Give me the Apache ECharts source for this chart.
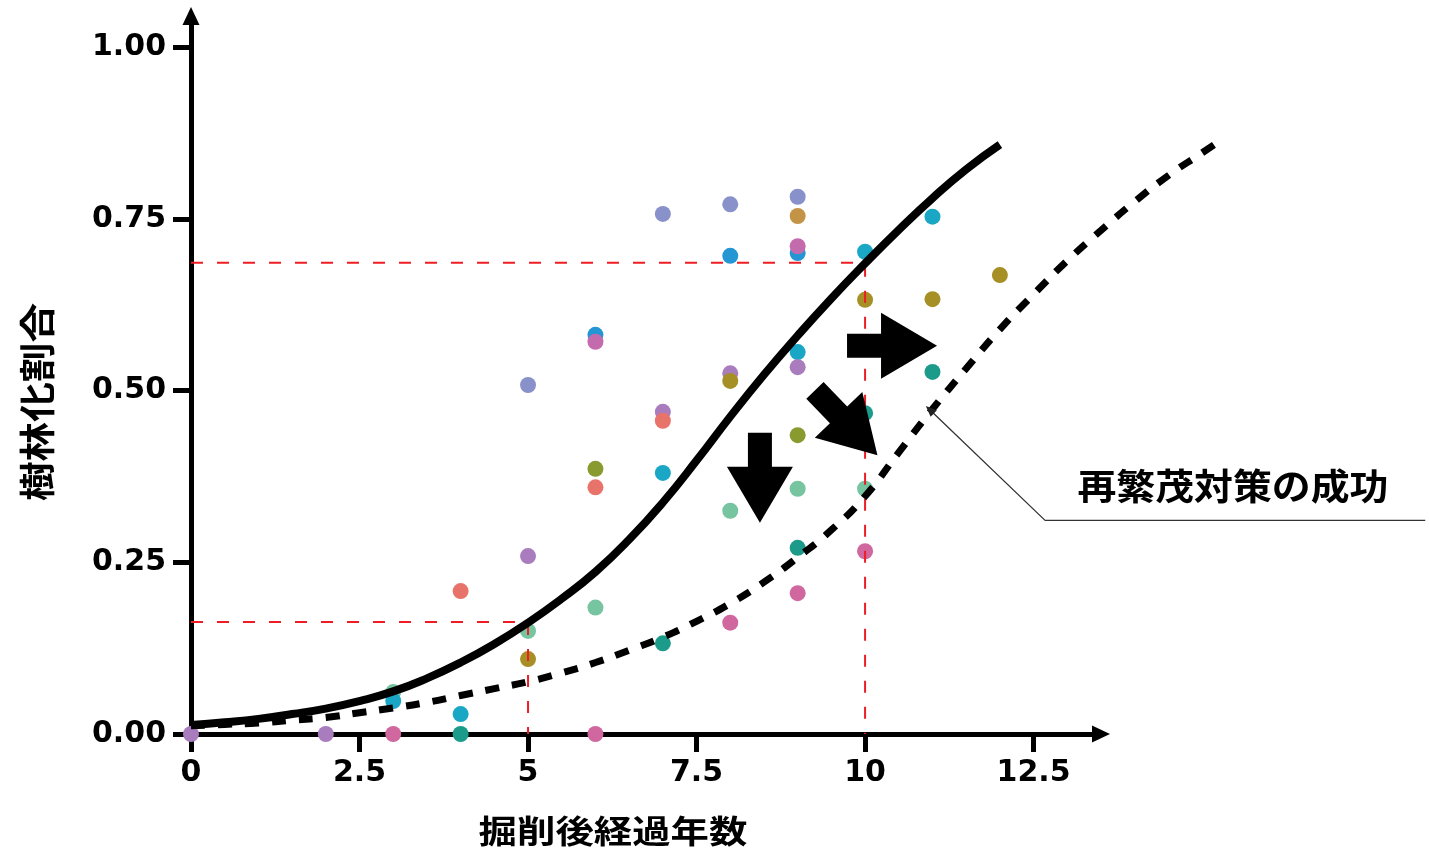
<!DOCTYPE html>
<html><head><meta charset="utf-8">
<script src="https://cdn.jsdelivr.net/npm/echarts@6/dist/echarts.min.js"></script>
<style>html,body{margin:0;padding:0;background:#fff}#c{width:1429px;height:852px}</style>
</head><body><div id="c"></div>
<script>
// ---- text ----
const xTitle = '掘削後経過年数';
const yTitle = '樹林化割合';
const annotationLabel = '再繁茂対策の成功';

// ---- tick labels ----
const xTicks = [0, 2.5, 5, 7.5, 10, 12.5];
const yTicks = [0, 0.25, 0.5, 0.75, 1.0];

// ---- observed points per site [years since excavation, forest ratio] ----
const siteMint     = [[3,0.061],[5,0.150],[6,0.184],[8,0.325],[9,0.357],[10,0.357]];
const siteTeal     = [[4,0.000],[7,0.132],[9,0.271],[10,0.467],[11,0.527]];
const siteCyan     = [[3,0.048],[4,0.029],[7,0.380],[9,0.556],[10,0.702],[11,0.753]];
const siteBlue     = [[6,0.581],[8,0.696],[9,0.700]];
const siteLavender = [[5,0.508],[7,0.757],[8,0.771],[9,0.782]];
const sitePurple   = [[0,0.000],[2,0.000],[5,0.259],[7,0.469],[8,0.525],[9,0.534]];
const siteSalmon   = [[4,0.208],[6,0.359],[7,0.456]];
const siteOlive    = [[6,0.386],[9,0.435]];
const siteGold     = [[5,0.109],[8,0.514],[10,0.632],[11,0.633],[12,0.668]];
const siteTan      = [[9,0.754]];
const sitePink     = [[6,0.571],[9,0.710]];
const siteRose     = [[3,0.000],[6,0.000],[8,0.162],[9,0.205],[10,0.266]];

// ---- fitted curves ----
const curveBaseline = [[0,0.013],[0.5,0.017],[1,0.022],[1.5,0.029],[2,0.037],[2.5,0.048],[3,0.062],[3.5,0.081],[4,0.104],[4.5,0.131],[5,0.162],[5.5,0.197],[6,0.236],[6.5,0.283],[7,0.337],[7.5,0.398],[8,0.462],[8.5,0.523],[9,0.580],[9.5,0.634],[10,0.685],[10.5,0.734],[11,0.780],[11.5,0.822],[12,0.858]];
const curveSuccess  = [[0,0.012],[0.5,0.014],[1,0.016],[1.5,0.020],[2,0.024],[2.5,0.031],[3,0.038],[3.5,0.046],[4,0.056],[4.5,0.066],[5,0.076],[5.5,0.089],[6,0.104],[6.5,0.122],[7,0.141],[7.5,0.164],[8,0.190],[8.5,0.221],[9,0.257],[9.5,0.297],[10,0.346],[10.5,0.410],[11,0.473],[11.5,0.532],[12,0.589],[12.5,0.640],[13,0.689],[13.5,0.733],[14,0.775],[14.5,0.813],[15,0.846],[15.24,0.862]];

// ---- reference (red dashed) guides ----
const guideLow  = [[0,0.163],[5,0.163],[5,0]];
const guideHigh = [[0,0.686],[10,0.686],[10,0]];

// ---- annotation anchors (data units) ----
const leaderLine = [[10.96,0.472],[12.67,0.311],[18.31,0.311]];
const annotationAnchor = [13.15, 0.361];
const arrowMarks = [[8.44,0.373,0],[9.72,0.453,44],[10.40,0.565,90]];

// ---- axis ranges ----
const xAxisEnd = 13.5;     // visible axis extent
const xPlotEnd = 18.5;     // drawing extent (curve and leader run past the axis)
const yAxisEnd = 1.045;

const sites = [
  ['mint', siteMint, '#77c4a1'],
  ['teal', siteTeal, '#1d9b8a'],
  ['cyan', siteCyan, '#1aa7c5'],
  ['blue', siteBlue, '#2496d3'],
  ['lavender', siteLavender, '#8891c9'],
  ['purple', sitePurple, '#a87cbd'],
  ['salmon', siteSalmon, '#e8736a'],
  ['olive', siteOlive, '#899a2f'],
  ['gold', siteGold, '#a68f25'],
  ['tan', siteTan, '#c39445'],
  ['pink', sitePink, '#c46bae'],
  ['rose', siteRose, '#d0679e']
];

const arrowPath = 'path://M21,0 L45,0 L45,34 L66,34 L33,90 L0,34 L21,34 Z';
const labelFont = { fontFamily: 'DejaVu Sans', fontWeight: 'bold', fontSize: 30, color: '#000' };

const gridLeft = 191, gridTop = 16.1, gridBottom = 118, axisWidth = 910;
const pxPerYear = axisWidth / xAxisEnd;
const plotRight = 1429 - gridLeft - pxPerYear * xPlotEnd;

const onPlot = { xAxisIndex: 1, yAxisIndex: 1 };
const series = [];
sites.forEach(s => series.push(Object.assign({
  type: 'scatter', name: s[0], data: s[1], symbol: 'circle', symbolSize: 16,
  itemStyle: { color: s[2], opacity: 1 }, z: 2
}, onPlot)));
series.push(Object.assign({ type: 'line', data: guideLow, showSymbol: false, symbol: 'none',
  lineStyle: { color: '#ee1c25', width: 2, type: [12, 14] }, z: 3 }, onPlot));
series.push(Object.assign({ type: 'line', data: guideHigh, showSymbol: false, symbol: 'none',
  lineStyle: { color: '#ee1c25', width: 2, type: [12, 14] }, z: 3 }, onPlot));
series.push(Object.assign({ type: 'line', data: curveBaseline, smooth: 0.5, showSymbol: false, symbol: 'none',
  lineStyle: { color: '#000', width: 8 }, z: 4 }, onPlot));
series.push(Object.assign({ type: 'line', data: curveSuccess, smooth: 0.5, showSymbol: false, symbol: 'none',
  lineStyle: { color: '#000', width: 7, type: [14, 13] }, z: 4 }, onPlot));
series.push(Object.assign({ type: 'line', showSymbol: true, z: 4,
  data: leaderLine.map((p, i) => i === 0
    ? { value: p, symbol: 'triangle', symbolSize: [9, 11], symbolRotate: 46, itemStyle: { color: '#222', opacity: 1 } }
    : { value: p, symbol: 'none' }),
  lineStyle: { color: '#333', width: 1.3 } }, onPlot));
series.push(Object.assign({ type: 'scatter', z: 5,
  data: arrowMarks.map(a => ({ value: [a[0], a[1]], symbolRotate: a[2] })),
  symbol: arrowPath, symbolSize: [66, 90], symbolKeepAspect: false,
  itemStyle: { color: '#000', opacity: 1 } }, onPlot));

const chart = echarts.init(document.getElementById('c'), null, { renderer: 'canvas' });
chart.setOption({
  animation: false,
  backgroundColor: '#fff',
  grid: [
    { left: gridLeft, width: axisWidth, top: gridTop, bottom: gridBottom, containLabel: false, outerBoundsMode: 'none' },
    { left: gridLeft, right: plotRight, top: gridTop, bottom: gridBottom, containLabel: false, outerBoundsMode: 'none' }
  ],
  xAxis: [{
    gridIndex: 0, type: 'value', min: 0, max: xAxisEnd, interval: 2.5,
    splitLine: { show: false },
    axisLine: { lineStyle: { color: '#000', width: 5 }, symbol: ['none', 'triangle'], symbolSize: [17, 18] },
    axisTick: { length: 18, lineStyle: { color: '#000', width: 5 }, customValues: xTicks },
    axisLabel: Object.assign({ margin: 24, customValues: xTicks, formatter: v => String(v) }, labelFont)
  }, {
    gridIndex: 1, type: 'value', min: 0, max: xPlotEnd, show: false,
    splitLine: { show: false }
  }],
  yAxis: [{
    gridIndex: 0, type: 'value', min: 0, max: yAxisEnd, interval: 0.25,
    splitLine: { show: false },
    axisLine: { lineStyle: { color: '#000', width: 5 }, symbol: ['none', 'triangle'], symbolSize: [17, 18] },
    axisTick: { length: 18, lineStyle: { color: '#000', width: 5 }, customValues: yTicks },
    axisLabel: Object.assign({ margin: 25, customValues: yTicks, formatter: v => v.toFixed(2) }, labelFont)
  }, {
    gridIndex: 1, type: 'value', min: 0, max: yAxisEnd, show: false,
    splitLine: { show: false }
  }],
  series: series
});

const annPx = chart.convertToPixel({ xAxisIndex: 1, yAxisIndex: 1 }, annotationAnchor);
const cjk = '"Noto Sans CJK JP", "Noto Sans CJK SC", sans-serif';
chart.setOption({
  graphic: [
    { type: 'text', x: 613, y: 831, scaleX: 1.2, z: 10,
      style: { text: xTitle, font: 'bold 32px ' + cjk, fill: '#000', textAlign: 'center', textVerticalAlign: 'middle' } },
    { type: 'text', x: 37, y: 402, rotation: Math.PI / 2, scaleX: 1.1, z: 10,
      style: { text: yTitle, font: 'bold 36px ' + cjk, fill: '#000', textAlign: 'center', textVerticalAlign: 'middle' } },
    { type: 'text', x: annPx[0], y: annPx[1], scaleX: 1.08, z: 10,
      style: { text: annotationLabel, font: 'bold 36px ' + cjk, fill: '#000', textAlign: 'left', textVerticalAlign: 'middle' } }
  ]
});
</script>
</body></html>
